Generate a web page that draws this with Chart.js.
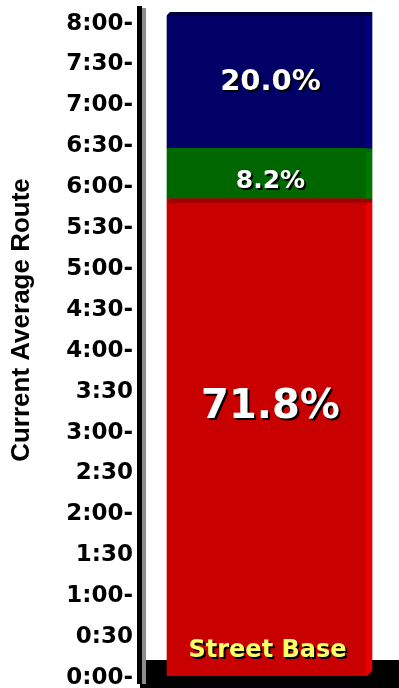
<!DOCTYPE html>
<html>
<head>
<meta charset="utf-8">
<script src="https://cdn.jsdelivr.net/npm/chart.js@4.4.1/dist/chart.umd.min.js"></script>
<style>
  body { margin: 0; background: #fff; }
  #wrap { width: 399px; height: 688px; }
</style>
</head>
<body>
<div id="wrap"><canvas id="chart"></canvas></div>
<script>
// data (minutes)
const categories = ['Current Average Route'];
const segmentNames = ['Street Base', 'Middle', 'Top'];
const segmentMinutes = [350, 37, 100];
const segmentLabels = ['71.8%', '8.2%', '20.0%'];
const tickValues = [0, 30, 60, 90, 120, 150, 180, 210, 240, 270, 300, 330, 360, 390, 420, 450, 480];
const tickLabels = ['0:00-', '0:30', '1:00-', '1:30', '2:00-', '2:30', '3:00-', '3:30',
  '4:00-', '4:30-', '5:00-', '5:30-', '6:00-', '6:30-', '7:00-', '7:30-', '8:00-'];
const axisMax = 487;

const colors = ['#c80000', '#006600', '#000066'];
const sideColors = ['#e60000', '#007800', '#00007c'];
const topColors = ['#a00000', '#006a00', '#00003c'];

const ctx = document.getElementById('chart').getContext('2d');

// 3d bevels, floor, axis line and labels
const decor = {
  id: 'decor',
  beforeDatasetsDraw(chart) {
    const c = chart.ctx;
    const area = chart.chartArea;
    const y0 = chart.scales.y.getPixelForValue(0);
    c.save();
    // black floor
    c.fillStyle = '#000';
    c.fillRect(area.left - 6, y0 - 16, chart.width - area.left + 6, chart.height - y0 + 16);
    // axis line with grey shadow
    c.fillStyle = '#000';
    c.fillRect(area.left - 9, 6, 5, y0 + 2);
    c.fillStyle = '#8c8c8c';
    c.fillRect(area.left - 4, 8, 4, y0);
    c.restore();
  },
  afterDatasetsDraw(chart) {
    const c = chart.ctx;
    c.save();
    chart.data.datasets.forEach((ds, i) => {
      const bar = chart.getDatasetMeta(i).data[0];
      const left = bar.x - bar.width / 2;
      const right = bar.x + bar.width / 2;
      const top = bar.y;
      const bottom = bar.base;
      // right face
      c.fillStyle = sideColors[i];
      c.fillRect(right - 6, top, 6, bottom - top);
      // top face with slanted corner
      c.fillStyle = topColors[i];
      c.beginPath();
      c.moveTo(left, top + 4);
      c.lineTo(left + 4, top);
      c.lineTo(right, top);
      c.lineTo(right, top + 4);
      c.closePath();
      c.fill();
      if (i === chart.data.datasets.length - 1) {
        c.fillStyle = '#fff';
        c.beginPath();
        c.moveTo(left - 1, top - 1);
        c.lineTo(left + 4, top - 1);
        c.lineTo(left - 1, top + 4);
        c.closePath();
        c.fill();
      }
      if (i === 0) {
        c.fillStyle = '#000';
        c.beginPath();
        c.moveTo(right + 1, bottom - 6);
        c.lineTo(right + 1, bottom + 1);
        c.lineTo(right - 6, bottom + 1);
        c.closePath();
        c.fill();
      }
    });

    // value labels
    const fonts = ['bold 40px "DejaVu Sans"', 'bold 25px "DejaVu Sans"', 'bold 29px "DejaVu Sans"'];
    const dy = [-30, 8, 2];
    c.textAlign = 'center';
    c.textBaseline = 'middle';
    chart.data.datasets.forEach((ds, i) => {
      const bar = chart.getDatasetMeta(i).data[0];
      const x = bar.x + 1;
      const y = (bar.y + bar.base) / 2 + dy[i];
      c.font = fonts[i];
      c.fillStyle = '#000';
      c.fillText(segmentLabels[i], x + 2, y + 2);
      c.fillStyle = '#fff';
      c.fillText(segmentLabels[i], x, y);
    });

    // base caption
    const b = chart.getDatasetMeta(0).data[0];
    c.font = 'bold 24px "DejaVu Sans"';
    c.fillStyle = '#000';
    c.fillText(segmentNames[0], b.x - 2 + 2, b.base - 25 + 2);
    c.fillStyle = '#ffff66';
    c.fillText(segmentNames[0], b.x - 2, b.base - 25);

    // axis title
    c.translate(22, 320);
    c.rotate(-Math.PI / 2);
    c.font = 'bold 26px "Liberation Sans"';
    c.fillStyle = '#000';
    c.fillText(categories[0], 0, 0);
    c.restore();
  }
};

new Chart(ctx, {
  type: 'bar',
  data: {
    labels: [''],
    datasets: segmentMinutes.map((v, i) => ({
      label: segmentNames[i],
      data: [v],
      backgroundColor: colors[i],
      borderWidth: 0,
      barThickness: 205
    }))
  },
  options: {
    responsive: true,
    maintainAspectRatio: false,
    animation: false,
    layout: { padding: { top: 12, bottom: 12, right: 6, left: 0 } },
    plugins: { legend: { display: false }, tooltip: { enabled: false } },
    scales: {
      x: { stacked: true, display: false },
      y: {
        stacked: true,
        min: 0,
        max: axisMax,
        grid: { display: false, drawTicks: false },
        border: { display: false },
        afterBuildTicks(scale) {
          scale.ticks = tickValues.map(v => ({ value: v }));
        },
        afterFit(scale) {
          scale.width = 146;
          scale.paddingTop = 0;
          scale.paddingBottom = 0;
        },
        ticks: {
          autoSkip: false,
          padding: 13,
          labelOffset: 2,
          color: '#000',
          font: { family: 'DejaVu Sans', weight: 'bold', size: 23 },
          callback(value) {
            const k = tickValues.indexOf(value);
            return k >= 0 ? tickLabels[k] : '';
          }
        }
      }
    }
  },
  plugins: [decor]
});
</script>
</body>
</html>
